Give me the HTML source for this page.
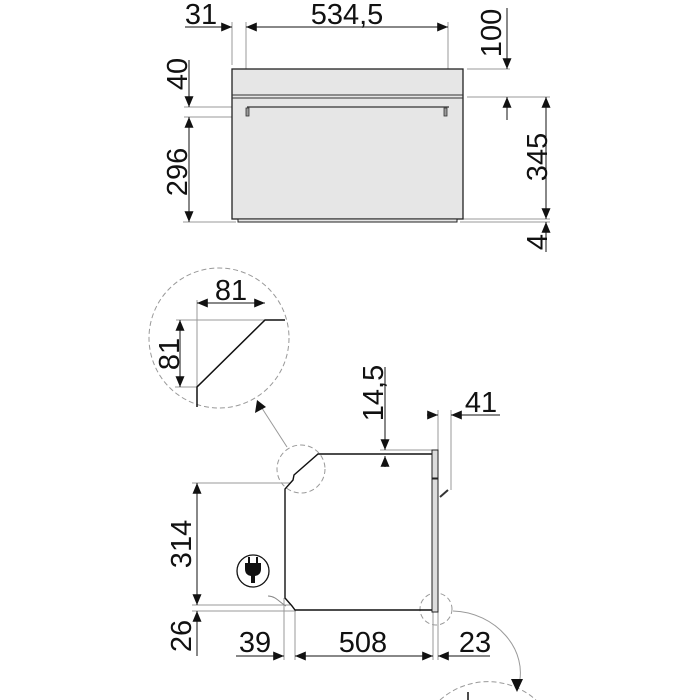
<!DOCTYPE html>
<html><head><style>html,body{margin:0;background:#fff;width:700px;height:700px;overflow:hidden}svg{display:block}text{font-family:"Liberation Sans",sans-serif;fill:#111}</style></head>
<body>
<svg width="700" height="700" viewBox="0 0 700 700" xmlns="http://www.w3.org/2000/svg">
<defs>
<marker id="a" viewBox="0 0 12 10" refX="12" refY="5" markerWidth="12" markerHeight="9" orient="auto-start-reverse" markerUnits="userSpaceOnUse"><path d="M0,0L12,5L0,10z" fill="#111"/></marker>
</defs>
<g stroke="#999" stroke-width="1" fill="none">
<line x1="232" y1="22" x2="232" y2="65"/>
<line x1="246" y1="22" x2="246" y2="112"/>
<line x1="448" y1="22" x2="448" y2="112"/>
<line x1="467" y1="69" x2="510" y2="69"/>
<line x1="467" y1="97" x2="550" y2="97"/>
<line x1="460" y1="219" x2="550" y2="219"/>
<line x1="460" y1="222" x2="550" y2="222"/>
<line x1="184" y1="107" x2="248" y2="107"/>
<line x1="184" y1="117" x2="250" y2="117"/>
<line x1="183" y1="222" x2="236" y2="222"/>
<line x1="197" y1="300" x2="197" y2="388"/>
<line x1="176" y1="320" x2="265" y2="320"/>
<line x1="175" y1="387" x2="197" y2="387"/>
<line x1="287" y1="447" x2="258" y2="402"/>
<line x1="380" y1="450" x2="432" y2="450"/>
<line x1="438" y1="410" x2="438" y2="450"/>
<line x1="451" y1="410" x2="451" y2="490"/>
<line x1="192" y1="483" x2="290" y2="483"/>
<line x1="192" y1="605" x2="290" y2="605"/>
<line x1="192" y1="611" x2="296" y2="611"/>
<line x1="284" y1="598" x2="284" y2="660"/>
<line x1="295" y1="610" x2="295" y2="660"/>
<line x1="433" y1="612" x2="433" y2="660"/>
<line x1="438" y1="612" x2="438" y2="660"/>
<path d="M453,611 C495,612 530,650 518,688"/>
</g>
<g stroke="#999" stroke-width="1" fill="none" stroke-dasharray="5,3">
<circle cx="219" cy="338" r="70"/>
<circle cx="301" cy="469" r="24"/>
<circle cx="436" cy="609" r="16"/>
<path d="M440,700 A72,72 0 0 1 536,700"/>
</g>
<rect x="232" y="69" width="231" height="150" fill="#e6e6e6" stroke="#222" stroke-width="1.3"/>
<rect x="238" y="219" width="219" height="3" fill="#e6e6e6" stroke="#222" stroke-width="1"/>
<line x1="232" y1="95" x2="463" y2="95" stroke="#333"/>
<line x1="232" y1="98" x2="463" y2="98" stroke="#333"/>
<line x1="247" y1="107" x2="449" y2="107" stroke="#333" stroke-width="1.3"/>
<rect x="246" y="108" width="3" height="8" fill="#999" stroke="#333" stroke-width="0.8"/>
<rect x="444" y="108" width="3" height="8" fill="#999" stroke="#333" stroke-width="0.8"/>
<path d="M285,320 L265,320 L197,387 L197,407" stroke="#111" stroke-width="1.5" fill="none"/>
<path d="M432,454 L318,454 L294,475 L293,480 L285,489 L285,598 L292,606 L295,610 L433,610" stroke="#111" stroke-width="1.4" fill="none"/>
<rect x="432" y="450" width="6" height="28" fill="#ddd" stroke="#222"/>
<rect x="432" y="479" width="6" height="133" fill="#ddd" stroke="#222"/>
<line x1="440" y1="497" x2="448" y2="490" stroke="#333" stroke-width="2"/>
<path d="M268,596 C276,596 280,603 286,606" stroke="#888" fill="none"/>
<circle cx="253" cy="571" r="16" fill="none" stroke="#111" stroke-width="1.3"/>
<rect x="248" y="557" width="2" height="6" fill="#111"/><rect x="256" y="557" width="2" height="6" fill="#111"/>
<path d="M245,563 H261 V569 Q261,575 255,576 V583 H251 V576 Q245,575 245,569Z" fill="#111"/>
<line x1="468" y1="692" x2="468" y2="700" stroke="#111" stroke-width="1.5"/>
<g stroke="#111" stroke-width="1" fill="none">
<line x1="185" y1="27" x2="232" y2="27" marker-end="url(#a)"/>
<line x1="246" y1="27" x2="448" y2="27" marker-start="url(#a)" marker-end="url(#a)"/>
<line x1="507" y1="8" x2="507" y2="69" marker-end="url(#a)"/>
<line x1="507" y1="120" x2="507" y2="97" marker-end="url(#a)"/>
<line x1="546" y1="97" x2="546" y2="219" marker-start="url(#a)" marker-end="url(#a)"/>
<line x1="546" y1="252" x2="546" y2="222" marker-end="url(#a)"/>
<line x1="189" y1="60" x2="189" y2="107" marker-end="url(#a)"/>
<line x1="189" y1="117" x2="189" y2="222" marker-start="url(#a)" marker-end="url(#a)"/>
<line x1="197" y1="303" x2="265" y2="303" marker-start="url(#a)" marker-end="url(#a)"/>
<line x1="180" y1="320" x2="180" y2="387" marker-start="url(#a)" marker-end="url(#a)"/>
<line x1="385" y1="367" x2="385" y2="450" marker-end="url(#a)"/>
<line x1="385" y1="467" x2="385" y2="456" marker-end="url(#a)"/>
<line x1="427" y1="415" x2="438" y2="415" marker-end="url(#a)"/>
<line x1="500" y1="415" x2="451" y2="415" marker-end="url(#a)"/>
<line x1="197" y1="483" x2="197" y2="605" marker-start="url(#a)" marker-end="url(#a)"/>
<line x1="197" y1="656" x2="197" y2="611" marker-end="url(#a)"/>
<line x1="236" y1="656" x2="284" y2="656" marker-end="url(#a)"/>
<line x1="295" y1="656" x2="433" y2="656" marker-start="url(#a)" marker-end="url(#a)"/>
<line x1="490" y1="656" x2="438" y2="656" marker-end="url(#a)"/>
</g>
<path d="M511,679 L523,679 L517,692Z" fill="#111"/>
<path d="M257,400 L255,413 L266,407Z" fill="#111"/>
<g font-size="29">
<text x="201" y="24" text-anchor="middle">31</text>
<text x="347" y="24" text-anchor="middle">534,5</text>
<text x="231" y="300" text-anchor="middle">81</text>
<text x="481" y="412" text-anchor="middle">41</text>
<text x="255" y="652" text-anchor="middle">39</text>
<text x="363" y="652" text-anchor="middle">508</text>
<text x="475" y="652" text-anchor="middle">23</text>
<text transform="translate(501,33) rotate(-90)" text-anchor="middle">100</text>
<text transform="translate(547,157) rotate(-90)" text-anchor="middle">345</text>
<text transform="translate(547,242) rotate(-90)" text-anchor="middle">4</text>
<text transform="translate(187,74) rotate(-90)" text-anchor="middle">40</text>
<text transform="translate(187,172) rotate(-90)" text-anchor="middle">296</text>
<text transform="translate(179,354) rotate(-90)" text-anchor="middle">81</text>
<text transform="translate(383,393) rotate(-90)" text-anchor="middle">14,5</text>
<text transform="translate(191,544) rotate(-90)" text-anchor="middle">314</text>
<text transform="translate(191,636) rotate(-90)" text-anchor="middle">26</text>
</g>
</svg>
</body></html>
